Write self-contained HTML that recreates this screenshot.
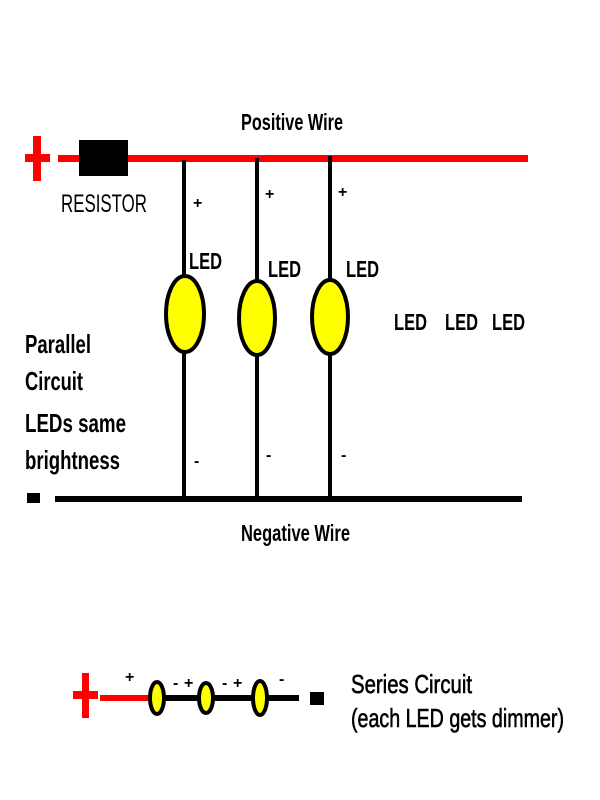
<!DOCTYPE html>
<html><head><style>html,body{margin:0;padding:0;background:#fff}svg{display:block}</style></head>
<body>
<svg width="600" height="800" viewBox="0 0 600 800" xmlns="http://www.w3.org/2000/svg" font-family="Liberation Sans, Arial, sans-serif" font-weight="bold">
<rect width="600" height="800" fill="#fff"/>
<rect x="25" y="154" width="25" height="8" fill="#f00"/>
<rect x="33" y="136" width="8" height="45" fill="#f00"/>
<rect x="58" y="155" width="470" height="7" fill="#f00"/>
<rect x="79" y="140" width="49" height="36" fill="#000"/>
<text x="241" y="130" font-size="23" textLength="102" lengthAdjust="spacingAndGlyphs">Positive Wire</text>
<text x="61" y="212" font-size="25" font-weight="normal" textLength="86" lengthAdjust="spacingAndGlyphs">RESISTOR</text>
<g stroke="#000" stroke-width="4">
<line x1="184" y1="160" x2="184" y2="499"/>
<line x1="257" y1="158" x2="257" y2="502"/>
<line x1="330" y1="156" x2="330" y2="499"/>
</g>
<g fill="#ff0" stroke="#000" stroke-width="4">
<ellipse cx="185" cy="314" rx="19" ry="38"/>
<ellipse cx="257" cy="318" rx="18" ry="37"/>
<ellipse cx="330" cy="317" rx="18" ry="37"/>
</g>
<g font-size="16">
<text x="193" y="208">+</text><text x="265" y="199">+</text><text x="338" y="197">+</text>
<text x="194" y="466">-</text><text x="266" y="460">-</text><text x="341" y="460">-</text>
</g>
<g font-size="23">
<text x="189" y="269" textLength="33" lengthAdjust="spacingAndGlyphs">LED</text>
<text x="268" y="277" textLength="33" lengthAdjust="spacingAndGlyphs">LED</text>
<text x="346" y="277" textLength="33" lengthAdjust="spacingAndGlyphs">LED</text>
<text x="394" y="330" textLength="33" lengthAdjust="spacingAndGlyphs">LED</text>
<text x="445" y="330" textLength="33" lengthAdjust="spacingAndGlyphs">LED</text>
<text x="492" y="330" textLength="33" lengthAdjust="spacingAndGlyphs">LED</text>
</g>
<g font-size="26">
<text x="25" y="353" textLength="66" lengthAdjust="spacingAndGlyphs">Parallel</text>
<text x="25" y="390" textLength="58" lengthAdjust="spacingAndGlyphs">Circuit</text>
<text x="25" y="432" textLength="101" lengthAdjust="spacingAndGlyphs">LEDs same</text>
<text x="25" y="469" textLength="95" lengthAdjust="spacingAndGlyphs">brightness</text>
</g>
<rect x="27" y="493" width="13" height="10" fill="#000"/>
<rect x="55" y="496" width="467" height="6" fill="#000"/>
<text x="241" y="541" font-size="23" textLength="109" lengthAdjust="spacingAndGlyphs">Negative Wire</text>
<rect x="73" y="691" width="25" height="8" fill="#f00"/>
<rect x="82" y="673" width="7" height="45" fill="#f00"/>
<rect x="100" y="695" width="52" height="6" fill="#f00"/>
<rect x="152" y="695" width="147" height="6" fill="#000"/>
<g fill="#ff0" stroke="#000" stroke-width="4">
<ellipse cx="157" cy="698" rx="7" ry="16"/>
<ellipse cx="206" cy="698" rx="7" ry="15"/>
<ellipse cx="260" cy="698" rx="7" ry="17"/>
</g>
<rect x="310" y="692" width="14" height="13" fill="#000"/>
<g font-size="16">
<text x="125" y="682">+</text>
<text x="173" y="688">-</text><text x="184" y="688">+</text>
<text x="222" y="688">-</text><text x="233" y="688">+</text>
<text x="279" y="684">-</text>
</g>
<g font-size="26" font-weight="normal" stroke="#000" stroke-width="0.6">
<text x="351" y="693" textLength="121" lengthAdjust="spacingAndGlyphs">Series Circuit</text>
<text x="351" y="727" textLength="213" lengthAdjust="spacingAndGlyphs">(each LED gets dimmer)</text>
</g>
</svg>
</body></html>
